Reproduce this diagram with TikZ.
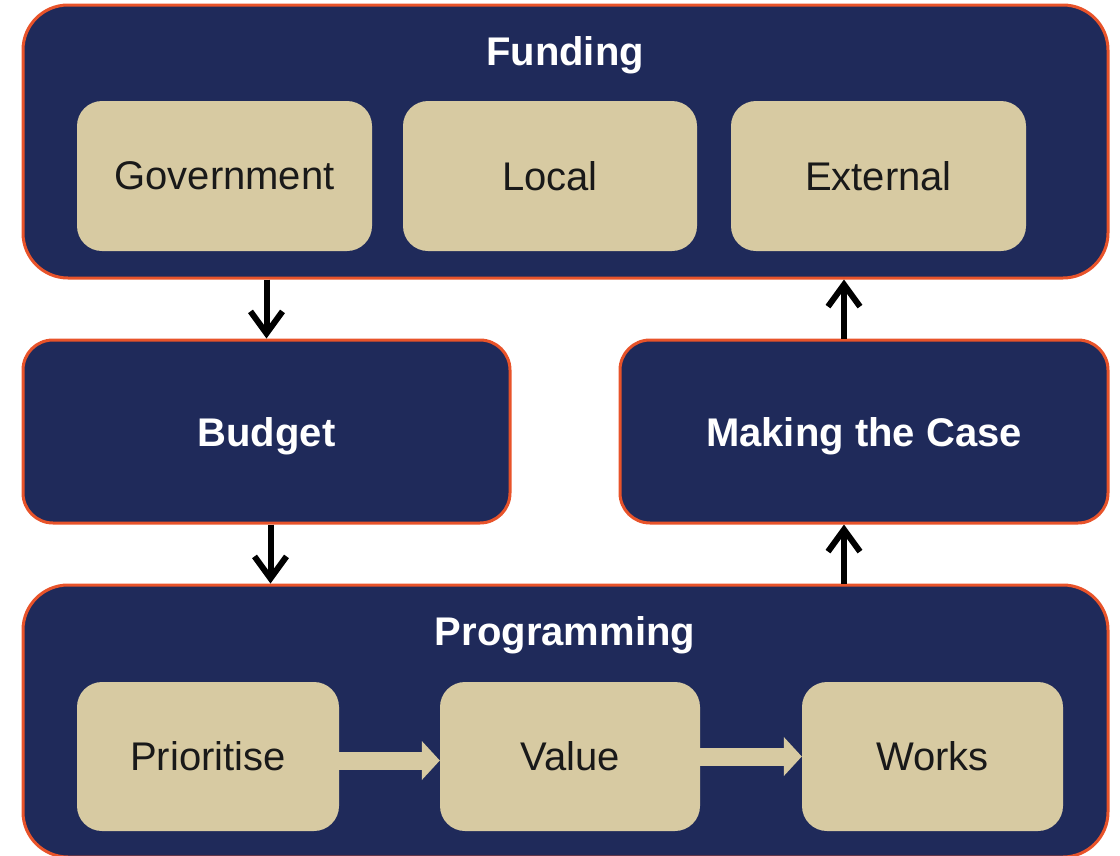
\documentclass[tikz,border=0pt]{standalone}
\usepackage{fontspec}
\setmainfont{Liberation Sans}
\usepackage{tikz}
\usetikzlibrary{arrows.meta}
\definecolor{navy}{RGB}{31,42,90}
\definecolor{sand}{RGB}{215,202,162}
\definecolor{rust}{RGB}{232,83,42}
\begin{document}
\begin{tikzpicture}[>={Straight Barb[length=22pt,width=32pt]},
  outer/.style={draw=rust, line width=3pt, fill=navy, rounded corners=45pt, inner sep=0pt},
  mid/.style={draw=rust, line width=3pt, fill=navy, rounded corners=30pt, inner sep=0pt, text depth=0pt, text=white, font=\fontsize{40pt}{48pt}\selectfont\bfseries},
  inner/.style={fill=sand, rounded corners=25pt, inner sep=0pt, minimum height=150pt, text={black!90}, font=\fontsize{40pt}{48pt}\selectfont},
  title/.style={text=white, font=\fontsize{40pt}{48pt}\selectfont\bfseries, inner sep=0pt},
  flow/.style={draw, line width=6pt, ->},
  step arrow/.style={draw=sand, line width=18pt, -{Triangle[length=18pt,width=38pt]}}]
\useasboundingbox (0pt, 0pt) rectangle (1120pt, -855pt);
\draw (565.5pt, -141.5pt)node[outer, minimum width=1085pt, minimum height=273pt](funding){};
\draw (565pt, -55pt)node[title](fundingtitle){Funding};
\draw (224.5pt, -176pt)node[inner, minimum width=295pt](gov){Government};
\draw (550pt, -176pt)node[inner, minimum width=294pt](local){Local};
\draw (878.5pt, -176pt)node[inner, minimum width=295pt](ext){External};
\draw (266.5pt, -431.5pt)node[mid, minimum width=487pt, minimum height=183pt](budget){Budget};
\draw (864pt, -431.5pt)node[mid, minimum width=488pt, minimum height=183pt](case){Making the Case};
\draw (565.5pt, -721pt)node[outer, minimum width=1085pt, minimum height=272pt](prog){};
\draw (565pt, -635pt)node[title](progtitle){Programming};
\draw (208pt, -756.5pt)node[inner, minimum width=262pt, minimum height=149pt](prio){Prioritise};
\draw (570pt, -756.5pt)node[inner, minimum width=260pt, minimum height=149pt](value){Value};
\draw (932.5pt, -756.5pt)node[inner, minimum width=261pt, minimum height=149pt](works){Works};
\path[step arrow] ([yshift=-4pt]prio.east) -- ([yshift=-4pt]value.west);
\path[step arrow] (value.east) -- (works.west);
\path[flow] (budget.north |- funding.south) -- (budget.north);
\path[flow] ([xshift=4pt]budget.south) -- ([xshift=4pt]budget.south |- prog.north);
\path[flow] ([xshift=-20pt]case.south |- prog.north) -- ([xshift=-20pt]case.south);
\path[flow] ([xshift=-20pt]case.north) -- ([xshift=-20pt]case.north |- funding.south);
\end{tikzpicture}
\end{document}
